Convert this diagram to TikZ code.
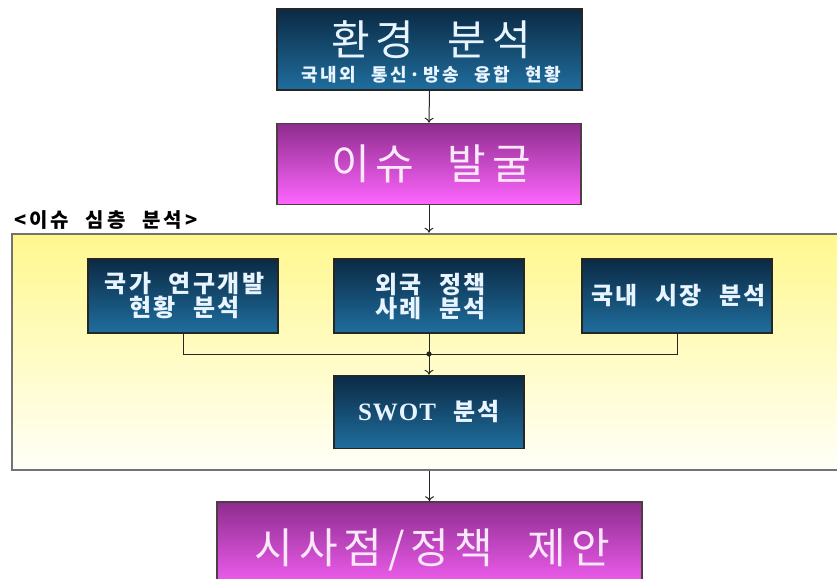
\documentclass[tikz,border=0pt]{standalone}
\usepackage{fontspec}
\usetikzlibrary{arrows.meta}
\newfontfamily\krwide{Noto Sans CJK KR}[LetterSpace=14,WordSpace=2.2]
\newfontfamily\krwider{Noto Sans CJK KR}[LetterSpace=15,WordSpace=2.2]
\newfontfamily\krinner{Noto Sans CJK KR}[LetterSpace=10,WordSpace=2.2]
\newfontfamily\lse{Liberation Serif}[LetterSpace=4]
\definecolor{navytop}{HTML}{0B2A44}
\definecolor{navybot}{HTML}{1F6E9E}
\definecolor{magtop}{HTML}{8E2C8E}
\definecolor{magbot}{HTML}{FF66FF}
\definecolor{yeltop}{HTML}{FFF88E}
\definecolor{yelbot}{HTML}{FFFFF8}
\definecolor{bluetext}{HTML}{E8F4FF}
\definecolor{pinktext}{HTML}{FCE8FC}
\begin{document}
\begin{tikzpicture}[x=1pt,y=-1pt,
  bluebox/.style={draw=black!85,line width=1.6pt,top color=navytop,bottom color=navybot,
    minimum width=190pt,minimum height=74pt,inner sep=0pt,text=bluetext,align=center,
    font=\krinner\bfseries\fontsize{24}{24}\selectfont},
  magbox/.style={draw=black!80!magenta,line width=1.6pt,top color=magtop,bottom color=magbot,
    inner sep=0pt,text=pinktext,font=\krwide\fontsize{42}{46}\selectfont},
  yelbox/.style={draw=black!55,line width=2.6pt,top color=yeltop,bottom color=yelbot,inner sep=0pt},
  arr/.style={draw=black!85,line width=1pt,-{To[length=5pt,width=9pt]}},
  conn/.style={draw=black!85,line width=1pt}]
\useasboundingbox (0,0) rectangle (837,578);
\fill[white] (0,0) rectangle (837,578);
\clip (0,0) rectangle (837,578);

% top box
\node[draw=black!85,line width=1.6pt,top color=navytop,bottom color=navybot,
  minimum width=305pt,minimum height=81pt,inner sep=0pt] (env) at (429.5,49.5) {};
\node[text=bluetext,font=\krwide\fontsize{42}{46}\selectfont,inner sep=0pt] (envtitle) at (431,40) {환경 분석};
\node[text=bluetext,font=\krwider\bfseries\fontsize{18}{20}\selectfont,inner sep=0pt] (envsub) at (431,75) {국내외 통신·방송 융합 현황};

% issue box
\node[magbox,minimum width=304pt,minimum height=81pt] (issue) at (429,164) {\hspace*{4pt}이슈 발굴};

% yellow container
\node[yelbox,minimum width=838pt,minimum height=236pt] (deep) at (431,352) {};
\node[anchor=west,inner sep=0pt,font=\krwider\bfseries\fontsize{20}{22}\selectfont] (deeplabel) at (14,220) {<이슈 심층 분석>};

% inner boxes
\node[bluebox] (b1) at (183,296) {\hspace*{3pt}국가 연구개발\\\hspace*{3pt}현황 분석};
\node[bluebox] (b2) at (429,296) {\hspace*{3pt}외국 정책\\\hspace*{3pt}사례 분석};
\node[bluebox] (b3) at (677,296) {\hspace*{3pt}국내 시장 분석};
\node[bluebox,minimum height=73pt] (swot) at (429,412) {{\lse\bfseries\fontsize{25}{25}\selectfont SWOT} 분석};

% result box
\node[magbox,minimum width=425pt,minimum height=96pt] (result) at (429.5,550) {\hspace*{6pt}시사점/정책 제안};

% connectors
\coordinate (j) at (429,354);
\draw[arr] (env.south) -- (issue.north);
\draw[arr] (issue.south) -- (issue.south |- deep.north);
\draw[conn] (b1.south) -- (b1.south |- j) -- (b3.south |- j) -- (b3.south);
\draw[conn] (b2.south) -- (j);
\fill[black!85] (j) circle (2.6pt);
\draw[arr] (j) -- (swot.north);
\draw[arr] (result.north |- deep.south) -- (result.north);
\end{tikzpicture}
\end{document}
